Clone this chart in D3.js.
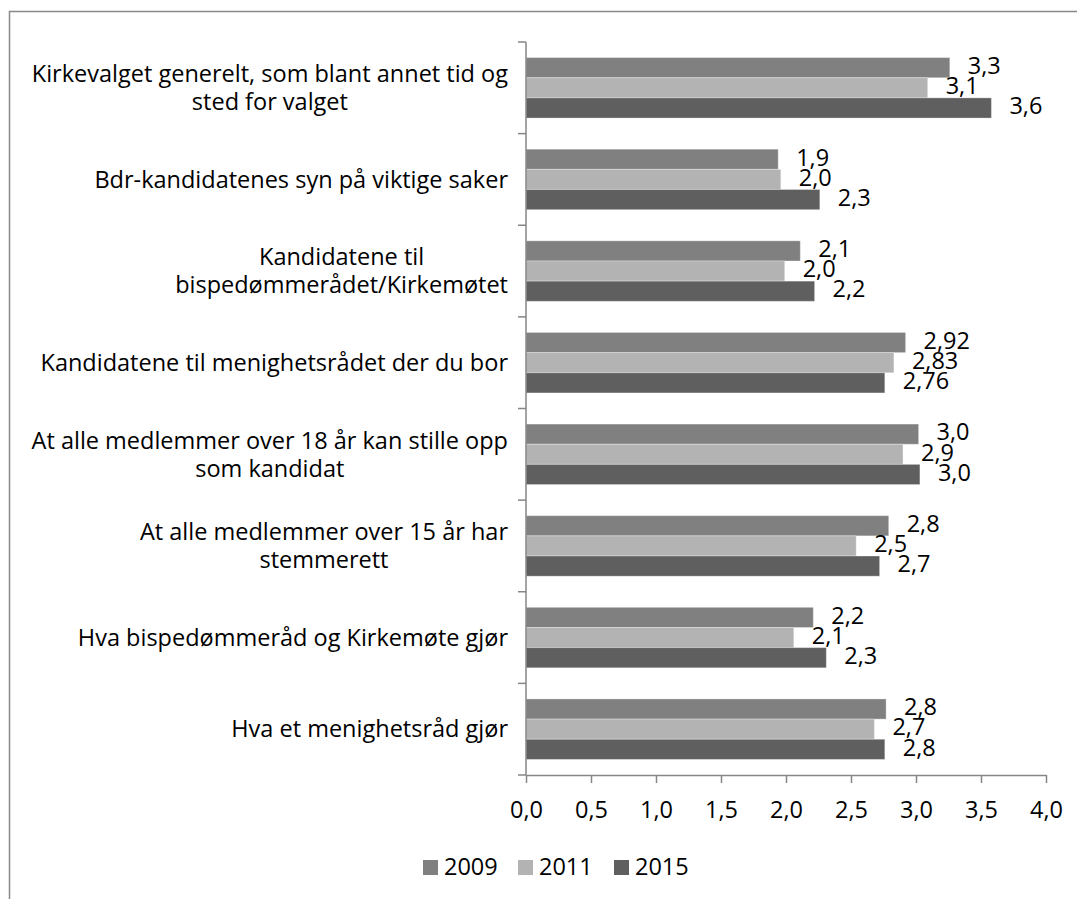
<!DOCTYPE html>
<html>
<head>
<meta charset="utf-8">
<script src="https://cdn.jsdelivr.net/npm/d3@7"></script>
<style>
  html, body { margin: 0; padding: 0; background: #fff; overflow: hidden; }
  svg { display: block; font-family: "Open Sans", "Noto Sans", sans-serif; }
</style>
</head>
<body>
<div id="chart"></div>
<script>
// categories top to bottom, "\n" marks where the label wraps
const categories = [
  "Kirkevalget generelt, som blant annet tid og\nsted for valget",
  "Bdr-kandidatenes syn på viktige saker",
  "Kandidatene til\nbispedømmerådet/Kirkemøtet",
  "Kandidatene til menighetsrådet der du bor",
  "At alle medlemmer over 18 år kan stille opp\nsom kandidat",
  "At alle medlemmer over 15 år har\nstemmerett",
  "Hva bispedømmeråd og Kirkemøte gjør",
  "Hva et menighetsråd gjør"
];
const years = ["2009", "2011", "2015"];
const values2009 = [3.26, 1.94, 2.11, 2.92, 3.02, 2.79, 2.21, 2.77];
const values2011 = [3.09, 1.96, 1.99, 2.83, 2.90, 2.54, 2.06, 2.68];
const values2015 = [3.58, 2.26, 2.22, 2.76, 3.03, 2.72, 2.31, 2.76];
const labelDecimals = [1, 1, 1, 2, 1, 1, 1, 1];
const xTicks = [0, 0.5, 1, 1.5, 2, 2.5, 3, 3.5, 4];

const seriesValues = [values2009, values2011, values2015];
const colors = ["#808080", "#b3b3b3", "#5f5f5f"];

const width = 1077, height = 899;
const fontSize = 23.5;
const axisColor = "#868686";
const fontFamily = '"Open Sans", "Noto Sans", sans-serif';

const svg = d3.select("#chart").append("svg")
  .attr("width", width)
  .attr("height", height);

// outer frame (runs off the right and bottom edge in the original)
svg.append("rect")
  .attr("x", 9.5).attr("y", 11.5)
  .attr("width", 1200).attr("height", 1200)
  .attr("fill", "none")
  .attr("stroke", "#898989")
  .attr("stroke-width", 1.5);

const x = d3.scaleLinear().domain([0, 4]).range([526, 1046]);
const y = d3.scaleBand().domain(categories).range([42, 775])
  .paddingInner(0.34).paddingOuter(0.17);
const ySub = d3.scaleBand().domain(years).range([0, y.bandwidth()]);

const comma = (v, d) => d3.format("." + d + "f")(v).replace(".", ",");

// bars
years.forEach((yr, s) => {
  const g = svg.append("g");
  g.selectAll("rect")
    .data(categories)
    .enter()
    .append("rect")
    .attr("x", x(0))
    .attr("y", c => y(c) + ySub(yr))
    .attr("width", (c, i) => x(seriesValues[s][i]) - x(0))
    .attr("height", ySub.bandwidth())
    .attr("fill", colors[s])
    .attr("stroke", "rgba(255,255,255,0.3)")
    .attr("stroke-width", 1);

  g.selectAll("text")
    .data(categories)
    .enter()
    .append("text")
    .attr("x", (c, i) => x(seriesValues[s][i]) + 18)
    .attr("y", c => y(c) + ySub(yr) + ySub.bandwidth() / 2 - 2)
    .attr("dy", "0.35em")
    .style("font-size", fontSize + "px")
    .attr("fill", "#000")
    .text((c, i) => comma(seriesValues[s][i], labelDecimals[i]));
});

// x axis
const xAxis = svg.append("g")
  .attr("transform", `translate(0,${y.range()[1]})`)
  .call(d3.axisBottom(x).tickValues(xTicks).tickSize(8).tickSizeOuter(0)
    .tickFormat(v => comma(v, 1)));
xAxis.select(".domain").attr("stroke", axisColor).attr("stroke-width", 1.5);
xAxis.selectAll(".tick line").attr("stroke", axisColor).attr("stroke-width", 1.5);
xAxis.selectAll(".tick text")
  .attr("y", 26)
  .style("font-size", fontSize + "px")
  .style("font-family", fontFamily)
  .attr("fill", "#000");

// y axis line and category boundary ticks
const step = y.step();
const boundaries = d3.range(categories.length + 1).map(i => y.range()[0] + i * step);
svg.append("line")
  .attr("x1", x(0)).attr("x2", x(0))
  .attr("y1", y.range()[0]).attr("y2", y.range()[1])
  .attr("stroke", axisColor).attr("stroke-width", 1.5);
svg.selectAll(".ytick")
  .data(boundaries)
  .enter()
  .append("line")
  .attr("class", "ytick")
  .attr("x1", x(0) - 8).attr("x2", x(0))
  .attr("y1", d => d).attr("y2", d => d)
  .attr("stroke", axisColor).attr("stroke-width", 1.5);

// category labels: block right aligned, lines centred on each other
const lineH = 28;
categories.forEach(c => {
  const lines = c.split("\n");
  const cy = y(c) + y.bandwidth() / 2;
  const g = svg.append("g");
  const texts = lines.map((ln, k) =>
    g.append("text")
      .attr("y", cy + (k - (lines.length - 1) / 2) * lineH)
      .attr("dy", "0.35em")
      .attr("text-anchor", "middle")
      .style("font-size", fontSize + "px")
      .attr("fill", "#000")
      .text(ln));
  const maxW = d3.max(texts, t => t.node().getComputedTextLength());
  const right = x(0) - 18;
  texts.forEach(t => t.attr("x", right - maxW / 2));
});

// legend
const legendX = [423, 518, 614];
const legend = svg.append("g");
years.forEach((yr, s) => {
  legend.append("rect")
    .attr("x", legendX[s]).attr("y", 860)
    .attr("width", 15).attr("height", 15)
    .attr("fill", colors[s]);
  legend.append("text")
    .attr("x", legendX[s] + 21).attr("y", 867)
    .attr("dy", "0.35em")
    .style("font-size", fontSize + "px")
    .attr("fill", "#000")
    .text(yr);
});
</script>
</body>
</html>
